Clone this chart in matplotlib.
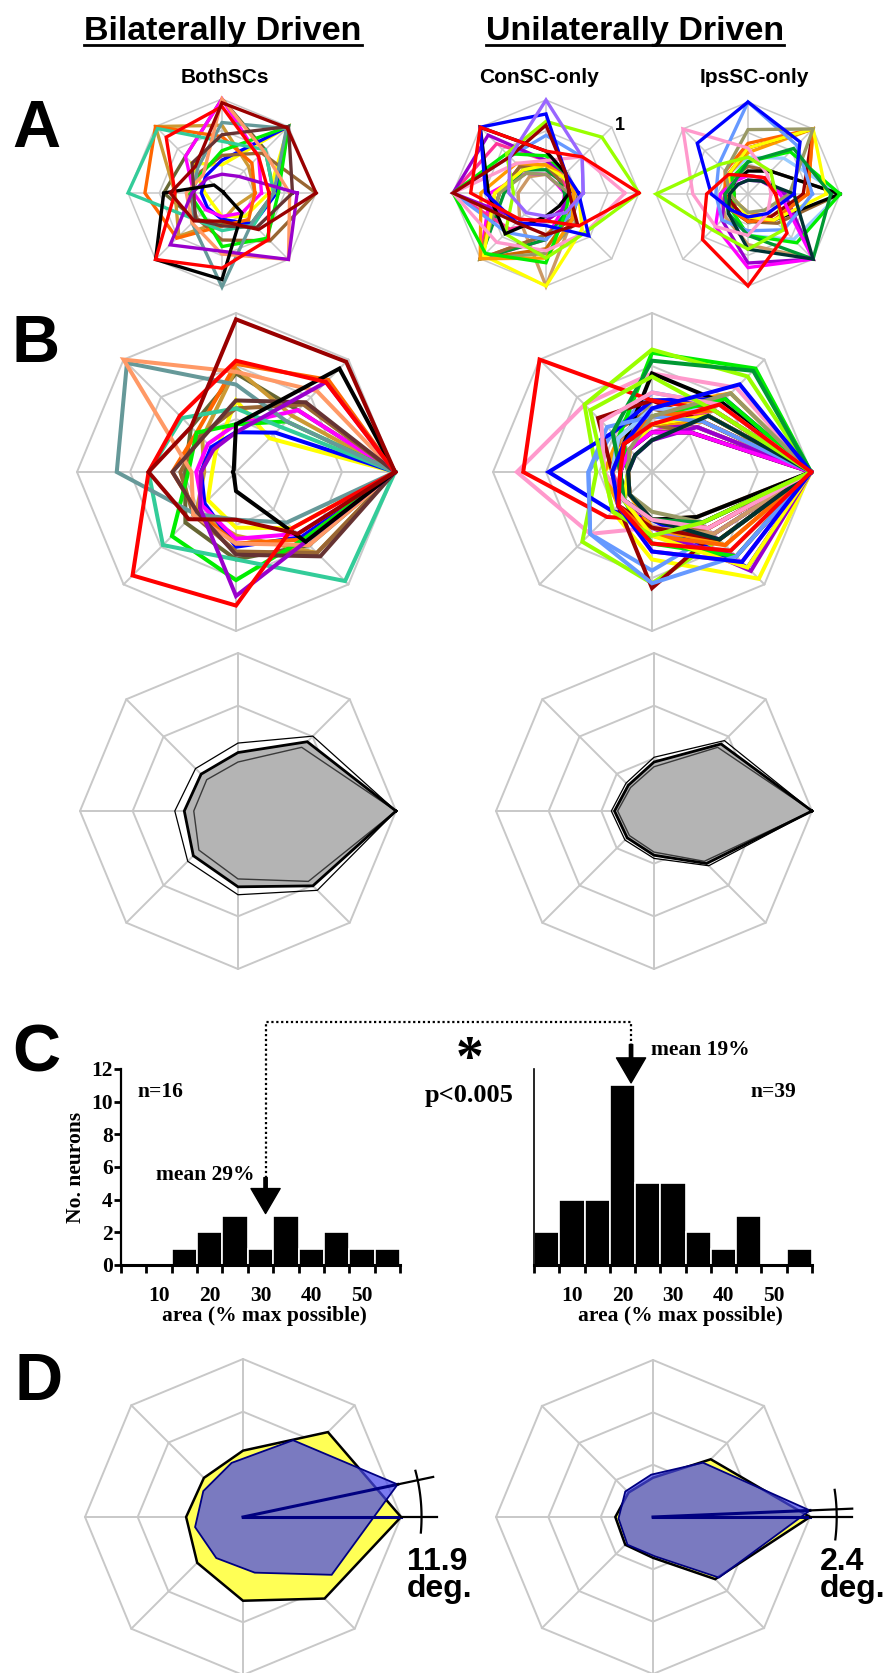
"""Direction-tuning radar plots (bilateral vs unilateral SC neurons),
area histograms and population vector shift panels."""
import numpy as np
import matplotlib
matplotlib.use("Agg")
import matplotlib.pyplot as plt
from matplotlib.lines import Line2D

W, H = 888, 1673
SANS = ["Liberation Sans", "DejaVu Sans"]
SERIF = ["Liberation Serif", "DejaVu Serif"]
GRID = "#C8C8C8"

DIRS_DEG = np.arange(0, 360, 45)   # 0 = rightward, counter-clockwise

# ---------------------------------------------------------------------------
# Data (normalised responses per direction, aligned so best direction = 0 deg)
# ---------------------------------------------------------------------------
both_colors = ["#666633", "#FFFF00", "#CC9933", "#0000FF", "#FF00FF", "#996633",
               "#FF6600", "#00EE00", "#33CC99", "#669999", "#FF9966", "#663333",
               "#9900CC", "#000000", "#FF0000", "#990000"]
both_profiles = [
    [1.00, 0.55, 0.62, 0.40, 0.32, 0.45, 0.55, 0.65],
    [1.00, 0.30, 0.45, 0.18, 0.15, 0.25, 0.35, 0.50],
    [1.00, 0.50, 0.65, 0.30, 0.20, 0.35, 0.40, 0.72],
    [1.00, 0.35, 0.25, 0.22, 0.22, 0.28, 0.47, 0.58],
    [1.00, 0.55, 0.30, 0.25, 0.25, 0.30, 0.42, 0.55],
    [1.00, 0.60, 0.40, 0.32, 0.35, 0.38, 0.50, 0.72],
    [1.00, 0.82, 0.68, 0.35, 0.40, 0.35, 0.45, 0.60],
    [1.00, 0.45, 0.30, 0.35, 0.30, 0.57, 0.68, 0.60],
    [1.00, 0.40, 0.40, 0.48, 0.55, 0.65, 0.55, 0.97],
    [1.00, 0.45, 0.55, 0.97, 0.75, 0.37, 0.30, 0.45],
    [1.00, 0.72, 0.63, 1.00, 0.28, 0.38, 0.45, 0.65],
    [1.00, 0.62, 0.45, 0.30, 0.40, 0.35, 0.52, 0.75],
    [1.00, 0.80, 0.25, 0.20, 0.22, 0.32, 0.78, 0.62],
    [1.00, 0.92, 0.30, 0.02, 0.02, 0.02, 0.12, 0.62],
    [1.00, 0.80, 0.70, 0.50, 0.55, 0.92, 0.84, 0.50],
    [1.00, 0.98, 0.96, 0.40, 0.55, 0.42, 0.30, 0.55],
]
# index of the raw (unaligned) best direction, used for panel A
both_shift = [2, 1, 3, 1, 2, 0, 3, 1, 4, 6, 7, 1, 7, 5, 5, 0]

uni_colors = [
    # ConSC-only
    "#CC9966", "#FF00FF", "#FF6600", "#CC6600", "#009933", "#996633", "#FF3399",
    "#999966", "#FFFF00", "#6699FF", "#FF9900", "#9900CC", "#00EE00", "#FF99CC",
    "#99FF00", "#000000", "#0000FF", "#990000", "#9966FF", "#FF0000",
    # IpsSC-only
    "#99CCFF", "#CC9966", "#996633", "#FF9900", "#000000", "#9900CC", "#00EE00",
    "#990000", "#FF6600", "#FFFF00", "#FF00FF", "#6699FF", "#999966", "#009933",
    "#003333", "#FF99CC", "#99FF00", "#0000FF", "#FF0000",
]
uni_profiles = [
    [1.00, 0.40, 0.30, 0.28, 0.20, 0.25, 0.30, 0.40],
    [1.00, 0.50, 0.25, 0.20, 0.15, 0.20, 0.30, 0.60],
    [1.00, 0.45, 0.35, 0.30, 0.25, 0.30, 0.35, 0.55],
    [1.00, 0.60, 0.35, 0.30, 0.20, 0.30, 0.40, 0.50],
    [1.00, 0.50, 0.30, 0.20, 0.20, 0.25, 0.35, 0.45],
    [1.00, 0.45, 0.40, 0.35, 0.20, 0.30, 0.40, 0.50],
    [1.00, 0.55, 0.30, 0.25, 0.25, 0.25, 0.35, 0.75],
    [1.00, 0.65, 0.45, 0.25, 0.15, 0.20, 0.30, 0.50],
    [1.00, 0.55, 0.35, 0.25, 0.30, 0.35, 0.55, 0.95],
    [1.00, 0.60, 0.50, 0.35, 0.40, 0.55, 0.62, 0.55],
    [1.00, 0.70, 0.40, 0.30, 0.30, 0.30, 0.45, 0.70],
    [1.00, 0.40, 0.30, 0.25, 0.25, 0.30, 0.35, 0.88],
    [1.00, 0.92, 0.75, 0.30, 0.25, 0.30, 0.40, 0.60],
    [1.00, 0.75, 0.62, 0.60, 0.85, 0.55, 0.35, 0.45],
    [1.00, 0.85, 0.77, 0.60, 0.35, 0.62, 0.70, 0.60],
    [1.00, 0.62, 0.62, 0.25, 0.20, 0.25, 0.30, 0.45],
    [1.00, 0.65, 0.45, 0.35, 0.65, 0.35, 0.30, 0.85],
    [1.00, 0.45, 0.45, 0.48, 0.25, 0.30, 0.73, 0.55],
    [1.00, 0.55, 0.40, 0.30, 0.25, 0.30, 0.40, 0.55],
    [1.00, 0.55, 0.45, 1.00, 0.81, 0.40, 0.30, 0.50],
    [1.00, 0.55, 0.40, 0.30, 0.25, 0.30, 0.45, 0.70],
    [1.00, 0.40, 0.25, 0.20, 0.25, 0.30, 0.35, 0.55],
    [1.00, 0.35, 0.30, 0.25, 0.15, 0.20, 0.30, 0.45],
    [1.00, 0.45, 0.30, 0.20, 0.15, 0.20, 0.35, 0.65],
    [1.00, 0.35, 0.25, 0.20, 0.20, 0.25, 0.30, 0.40],
    [1.00, 0.40, 0.20, 0.15, 0.15, 0.25, 0.40, 0.75],
    [1.00, 0.65, 0.35, 0.25, 0.15, 0.25, 0.45, 0.75],
    [1.00, 0.50, 0.30, 0.25, 0.20, 0.30, 0.35, 0.60],
    [1.00, 0.55, 0.35, 0.25, 0.25, 0.30, 0.40, 0.65],
    [1.00, 0.50, 0.30, 0.20, 0.15, 0.25, 0.40, 0.85],
    [1.00, 0.35, 0.25, 0.20, 0.20, 0.30, 0.50, 0.80],
    [1.00, 0.45, 0.35, 0.40, 0.40, 0.55, 0.70, 0.75],
    [1.00, 0.70, 0.35, 0.20, 0.15, 0.20, 0.25, 0.45],
    [1.00, 0.90, 0.70, 0.35, 0.20, 0.25, 0.30, 0.45],
    [1.00, 0.50, 0.20, 0.15, 0.15, 0.20, 0.30, 0.60],
    [1.00, 0.60, 0.50, 0.45, 0.30, 0.25, 0.30, 0.50],
    [1.00, 0.55, 0.60, 0.55, 0.30, 0.35, 0.40, 0.45],
    [1.00, 0.78, 0.40, 0.25, 0.25, 0.30, 0.50, 0.80],
    [1.00, 0.60, 0.30, 0.25, 0.20, 0.30, 0.45, 0.70],
]
uni_shift = [6, 5, 5, 5, 5, 5, 4, 5, 6, 4, 5, 4, 4, 4, 0, 3, 3, 4, 2, 0,
             0, 7, 0, 1, 0, 7, 0, 1, 1, 1, 7, 2, 1, 7, 7, 3, 4, 2, 6]
N_CON = 20   # first N_CON unilateral cells are ConSC-only

mean_both = [1.00, 0.62, 0.37, 0.33, 0.34, 0.40, 0.48, 0.67]
sem_both = [0.00, 0.05, 0.06, 0.05, 0.06, 0.05, 0.05, 0.04]
mean_uni = [1.00, 0.60, 0.31, 0.23, 0.25, 0.24, 0.28, 0.47]
sem_uni = [0.00, 0.03, 0.03, 0.02, 0.02, 0.02, 0.02, 0.02]

# panel D: aligned average (yellow) and vector-rotated average (blue)
yellow_both = [1.00, 0.76, 0.42, 0.35, 0.36, 0.41, 0.53, 0.73]
blue_both = [1.00, 0.58, 0.35, 0.30, 0.31, 0.31, 0.36, 0.67]
yellow_uni = [1.00, 0.52, 0.25, 0.22, 0.24, 0.25, 0.26, 0.56]
blue_uni = [1.00, 0.47, 0.27, 0.24, 0.22, 0.24, 0.25, 0.57]
shift_deg = [11.9, 2.4]

# panel C histograms
bin_centers = [5, 10, 15, 20, 25, 30, 35, 40, 45, 50, 55]
counts_both = [0, 0, 1, 2, 3, 1, 3, 1, 2, 1, 1]
counts_uni = [2, 4, 4, 11, 5, 5, 2, 1, 3, 0, 1]
arrow_x = [31.0, 21.7]
arrow_top = [5.35, 13.5]
arrow_tip = [3.15, 11.15]


# ---------------------------------------------------------------------------
# helpers
# ---------------------------------------------------------------------------
def px_box(cx, cy, r):
    """Figure-fraction rect of a square of half-size r (px) centred at cx, cy."""
    return [(cx - r) / W, (H - cy - r) / H, 2 * r / W, 2 * r / H]


def closed(vals, rot=0.0):
    th = np.deg2rad(np.append(DIRS_DEG, 360) + rot)
    r = np.append(np.asarray(vals, float), vals[0])
    return th, r


def radar_axes(fig, cx, cy, R, lim=1.05, grid_lw=1.4):
    ax = fig.add_axes(px_box(cx, cy, R * lim), projection="polar")
    ax.set_ylim(0, lim)
    ax.set_axis_off()
    th = np.deg2rad(np.append(DIRS_DEG, 360))
    for ring in (1 / 3, 2 / 3, 1.0):
        ax.plot(th, np.full(th.shape, ring), color=GRID, lw=grid_lw,
                zorder=1, clip_on=False)
    for t in th[:-1]:
        ax.plot([t, t], [0, 1], color=GRID, lw=grid_lw, zorder=1, clip_on=False)
    return ax


def draw_cells(ax, profiles, colors, lw, shifts=None):
    for i, (p, c) in enumerate(zip(profiles, colors)):
        p = np.asarray(p)
        if shifts is not None:
            p = np.roll(p, shifts[i])
        th, r = closed(p)
        ax.plot(th, r, color=c, lw=lw, solid_joinstyle="miter",
                zorder=2 + i, clip_on=False)


def draw_mean(ax, mean, sem):
    m, s = np.asarray(mean), np.asarray(sem)
    th, r = closed(m)
    ax.fill(th, r, facecolor="#B4B4B4", edgecolor="none", zorder=2)
    th, r = closed(m + s)
    ax.plot(th, r, color="black", lw=0.9, zorder=3)
    th, r = closed(m - s)
    ax.plot(th, r, color="#3a3a3a", lw=1.0, zorder=4)
    th, r = closed(m)
    ax.plot(th, r, color="black", lw=2.0, zorder=5, solid_joinstyle="miter")


def draw_shift(ax, yellow, blue, rot, arc_r, arc_span, ext_r):
    th, r = closed(yellow)
    ax.fill(th, r, facecolor="#FFFF55", edgecolor="black", lw=1.8, zorder=2)
    th, r = closed(blue, rot)
    ax.fill(th, r, facecolor=(0.28, 0.28, 0.92, 0.72), edgecolor="#000080",
            lw=1.3, zorder=3)
    for a in (0.0, rot):
        t = np.deg2rad(a)
        ax.plot([t, t], [0, 1.0], color="#000080", lw=2.2, zorder=4)
        ax.plot([t, t], [1.0, ext_r], color="black", lw=1.6, zorder=4,
                clip_on=False)
    arc = np.deg2rad(np.linspace(arc_span[0], arc_span[1], 40))
    ax.plot(arc, np.full(arc.shape, arc_r), color="black", lw=1.6,
            zorder=4, clip_on=False)


def ftext(x, y, s, **kw):
    """Text placed in figure pixels (y measured from the top)."""
    return fig.text(x / W, 1 - y / H, s, **kw)


def hist_axes(x0, x1, y_top, y_bot):
    return fig.add_axes([x0 / W, (H - y_bot) / H, (x1 - x0) / W, (y_bot - y_top) / H])


def style_hist(ax, show_y):
    ax.set_xlim(2.5, 57.5)
    ax.set_ylim(0, 12)
    for side in ("top", "right"):
        ax.spines[side].set_visible(False)
    ax.spines["bottom"].set_linewidth(2.2)
    ax.spines["left"].set_linewidth(1.6 if show_y else 1.2)
    ax.set_xticks([10, 20, 30, 40, 50])
    ax.set_xticks(np.arange(2.5, 58, 5), minor=True)
    ax.tick_params(axis="x", which="major", length=0, pad=15)
    ax.tick_params(axis="x", which="minor", length=6, width=2, direction="out")
    if show_y:
        ax.set_yticks(range(0, 13, 2))
        ax.tick_params(axis="y", length=5, width=2, direction="out", pad=1)
    else:
        ax.set_yticks([])
    for lab in ax.get_xticklabels() + ax.get_yticklabels():
        lab.set_family(SERIF)
        lab.set_fontweight("bold")
        lab.set_fontsize(15.5)
    ax.set_xlabel("area (% max possible)", family=SERIF, fontweight="bold", fontsize=15.5)


# ---------------------------------------------------------------------------
# figure
# ---------------------------------------------------------------------------
fig = plt.figure(figsize=(W / 100, H / 100), dpi=100)

# headers
hdr = [ftext(223, 40, "Bilaterally Driven", ha="center", va="baseline",
             family=SANS, fontweight="bold", fontsize=24.5),
       ftext(635, 40, "Unilaterally Driven", ha="center", va="baseline",
             family=SANS, fontweight="bold", fontsize=24.5)]
ftext(225, 83, "BothSCs", ha="center", va="baseline", family=SANS,
      fontweight="bold", fontsize=15)
ftext(539, 83, "ConSC-only", ha="center", va="baseline", family=SANS,
      fontweight="bold", fontsize=15)
ftext(754, 83, "IpsSC-only", ha="center", va="baseline", family=SANS,
      fontweight="bold", fontsize=15)
ftext(620, 130, "1", ha="center", va="baseline", family=SANS,
      fontweight="bold", fontsize=13)

for letter, x, y in (("A", 36, 147), ("B", 36, 362), ("C", 36, 1071), ("D", 39, 1400)):
    ftext(x, y, letter, ha="center", va="baseline", family=SANS,
          fontweight="bold", fontsize=48)

# --- A: raw tuning ---------------------------------------------------------
ax = radar_axes(fig, 222, 193, 94, grid_lw=1.1)
draw_cells(ax, both_profiles, both_colors, 2.4, both_shift)
ax = radar_axes(fig, 546, 193, 93, grid_lw=1.1)
draw_cells(ax, uni_profiles[:N_CON], uni_colors[:N_CON], 2.4, uni_shift[:N_CON])
ax = radar_axes(fig, 748, 194, 92, grid_lw=1.1)
draw_cells(ax, uni_profiles[N_CON:], uni_colors[N_CON:], 2.4, uni_shift[N_CON:])

# --- B: aligned tuning and means ------------------------------------------
ax = radar_axes(fig, 236, 472, 159)
draw_cells(ax, both_profiles, both_colors, 2.9)
ax = radar_axes(fig, 652, 472, 159)
draw_cells(ax, uni_profiles, uni_colors, 2.9)

ax = radar_axes(fig, 238, 811, 158)
draw_mean(ax, mean_both, sem_both)
ax = radar_axes(fig, 654, 811, 158)
draw_mean(ax, mean_uni, sem_uni)

# --- C: area histograms ----------------------------------------------------
ax_l = hist_axes(121, 400, 1069, 1265)
ax_l.bar(bin_centers, counts_both, width=5, color="black", edgecolor="white", lw=1.2)
style_hist(ax_l, True)
ax_l.set_ylabel("No. neurons", family=SERIF, fontweight="bold", fontsize=15.5)
ax_l.yaxis.set_label_coords(-0.125, 0.5)
ax_l.xaxis.set_label_coords(0.513, -0.262)
ax_l.xaxis.label.set_va("center")

ax_r = hist_axes(534, 812, 1069, 1265)
ax_r.bar(bin_centers, counts_uni, width=5, color="black", edgecolor="white", lw=1.2)
style_hist(ax_r, False)
ax_r.xaxis.set_label_coords(0.525, -0.262)
ax_r.xaxis.label.set_va("center")

for a, x, top, tip in zip((ax_l, ax_r), arrow_x, arrow_top, arrow_tip):
    a.annotate("", xy=(x, tip), xytext=(x, top), annotation_clip=False,
               arrowprops=dict(facecolor="black", edgecolor="black", width=2.4,
                               headwidth=21, headlength=18, shrink=0))

tkw = dict(family=SERIF, fontweight="bold", fontsize=15.5, va="baseline")
ax_l.text(10.2, 10.3, "n=16", ha="center", **tkw)
ax_l.text(19.1, 5.2, "mean 29%", ha="center", **tkw)
ax_r.text(35.4, 12.85, "mean 19%", ha="center", **tkw)
ax_r.text(49.8, 10.3, "n=39", ha="center", **tkw)
ftext(470, 1075, "*", ha="center", va="baseline", family=SERIF,
      fontweight="bold", fontsize=40)
ftext(469, 1102, "p<0.005", ha="center", va="baseline", family=SERIF,
      fontweight="bold", fontsize=19)

# dotted link between the two means
CONNECT_Y = 14.9   # in left-histogram data units
p_l = ax_l.transData.transform((arrow_x[0], arrow_top[0]))
p_r = ax_r.transData.transform((arrow_x[1], arrow_top[1]))
y_c = ax_l.transData.transform((0, CONNECT_Y))[1]
pts = fig.transFigure.inverted().transform(
    np.column_stack([[p_l[0], p_l[0], p_r[0], p_r[0]], [p_l[1], y_c, y_c, p_r[1]]]))
fig.add_artist(Line2D(pts[:, 0], pts[:, 1], transform=fig.transFigure,
                      ls=(0, (1, 1.2)), lw=1.6, color="black"))

# --- D: vector shift -------------------------------------------------------
ax = radar_axes(fig, 243, 1517, 158)
draw_shift(ax, yellow_both, blue_both, shift_deg[0], 1.13, (-5, 15), 1.23)
ax = radar_axes(fig, 653, 1517, 157)
draw_shift(ax, yellow_uni, blue_uni, shift_deg[1], 1.17, (-7, 8.5), 1.27)

dkw = dict(ha="left", va="baseline", family=SANS, fontweight="bold", fontsize=23)
ftext(407, 1570, f"{shift_deg[0]:.1f}", **dkw)
ftext(407, 1597, "deg.", **dkw)
ftext(820, 1570, f"{shift_deg[1]:.1f}", **dkw)
ftext(820, 1597, "deg.", **dkw)

# underline the two headers
fig.canvas.draw()
inv = fig.transFigure.inverted()
for t in hdr:
    bb = t.get_window_extent()
    (x0, _), (x1, _) = inv.transform([[bb.x0, 0], [bb.x1, 0]])
    yl = 1 - 45 / H
    fig.add_artist(Line2D([x0, x1], [yl, yl], transform=fig.transFigure,
                          lw=2.0, color="black"))

fig.savefig("out.png", dpi=100)
